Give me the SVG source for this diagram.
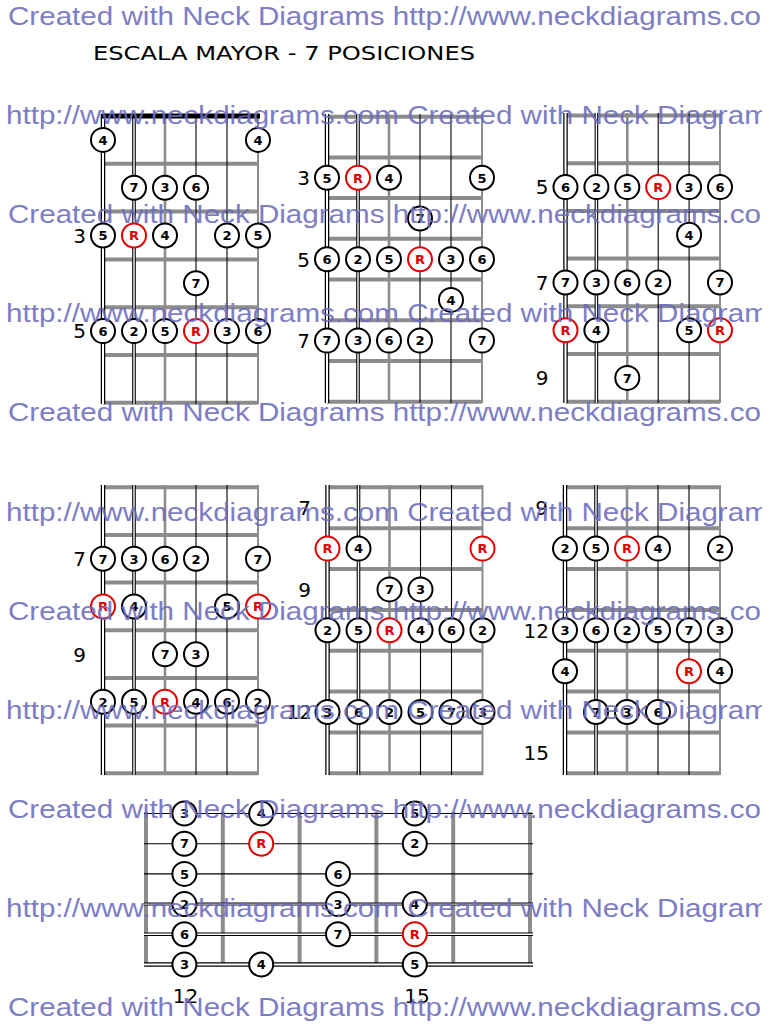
<svg xmlns="http://www.w3.org/2000/svg" width="768" height="1024" viewBox="0 0 768 1024">
<style>
.wm{font-family:"Liberation Sans",Arial,sans-serif;font-size:26px;fill:#6c6cbd;opacity:.88}
.title{font-family:"DejaVu Sans",Verdana,sans-serif;font-size:20px;fill:#000}
.fret{stroke:#8c8c8c;stroke-width:4}
.nut{stroke:#000;stroke-width:5}
.so{stroke:#000;stroke-width:4.5}
.si{stroke:#fff;stroke-width:2}
.ao{stroke:#000;stroke-width:3.6}
.ai{stroke:#fff;stroke-width:1.4}
.bo{stroke:#000;stroke-width:3}
.bi{stroke:#fff;stroke-width:1}
.sd{stroke:#8c8c8c;stroke-width:2.6}
.st{stroke:#000;stroke-width:1.1}
.se{stroke:#8c8c8c;stroke-width:2}
.n circle{fill:#fff;stroke:#000;stroke-width:2}
.n text{font-family:"DejaVu Sans",Verdana,sans-serif;font-weight:bold;font-size:13px;text-anchor:middle;fill:#000}
.n.r circle{stroke:#e00000}
.n.r text{fill:#e00000}
.lbl{font-family:"DejaVu Sans",Verdana,sans-serif;font-size:20px;fill:#000;text-anchor:end}
.lbl.c{text-anchor:middle}
</style>
<defs>
<clipPath id="wmclip"><rect x="0" y="0" width="762" height="1024"/></clipPath>
</defs>
<rect width="768" height="1024" fill="#fff"/>

<text id="title" class="title" x="93" y="60" textLength="382" lengthAdjust="spacingAndGlyphs">ESCALA MAYOR - 7 POSICIONES</text>

<g id="connectors"></g>

<!-- Diagram A: top-left -->
<g id="diagA">
<g id="diagA-grid">
<line class="fret" x1="103" y1="163.8" x2="258" y2="163.8"/>
<line class="fret" x1="103" y1="211.6" x2="258" y2="211.6"/>
<line class="fret" x1="103" y1="259.4" x2="258" y2="259.4"/>
<line class="fret" x1="103" y1="307.2" x2="258" y2="307.2"/>
<line class="fret" x1="103" y1="355" x2="258" y2="355"/>
<line class="fret" x1="103" y1="402.8" x2="258" y2="402.8"/>
<line class="so" x1="103" y1="114" x2="103" y2="404"/><line class="si" x1="103" y1="114" x2="103" y2="404"/>
<line class="ao" x1="134" y1="114" x2="134" y2="404"/><line class="ai" x1="134" y1="114" x2="134" y2="404"/>
<line class="sd" x1="165" y1="114" x2="165" y2="404"/>
<line class="st" x1="196" y1="114" x2="196" y2="404"/>
<line class="st" x1="227" y1="114" x2="227" y2="404"/>
<line class="se" x1="258" y1="114" x2="258" y2="404"/>
<line class="nut" x1="102" y1="116" x2="260" y2="116"/>
</g>
<text class="lbl" x="86" y="242.8">3</text>
<text class="lbl" x="86" y="338.4">5</text>
<g id="a1" class="n"><circle cx="103" cy="139.9" r="12"/><text x="103" y="144.6">4</text></g>
<g id="a2" class="n"><circle cx="258" cy="139.9" r="12"/><text x="258" y="144.6">4</text></g>
<g id="a3" class="n"><circle cx="134" cy="187.7" r="12"/><text x="134" y="192.4">7</text></g>
<g id="a4" class="n"><circle cx="165" cy="187.7" r="12"/><text x="165" y="192.4">3</text></g>
<g id="a5" class="n"><circle cx="196" cy="187.7" r="12"/><text x="196" y="192.4">6</text></g>
<g id="a6" class="n"><circle cx="103" cy="235.5" r="12"/><text x="103" y="240.2">5</text></g>
<g id="a7" class="n r"><circle cx="134" cy="235.5" r="12"/><text x="134" y="240.2">R</text></g>
<g id="a8" class="n"><circle cx="165" cy="235.5" r="12"/><text x="165" y="240.2">4</text></g>
<g id="a9" class="n"><circle cx="227" cy="235.5" r="12"/><text x="227" y="240.2">2</text></g>
<g id="a10" class="n"><circle cx="258" cy="235.5" r="12"/><text x="258" y="240.2">5</text></g>
<g id="a11" class="n"><circle cx="196" cy="283.3" r="12"/><text x="196" y="288">7</text></g>
<g id="a12" class="n"><circle cx="103" cy="331.1" r="12"/><text x="103" y="335.8">6</text></g>
<g id="a13" class="n"><circle cx="134" cy="331.1" r="12"/><text x="134" y="335.8">2</text></g>
<g id="a14" class="n"><circle cx="165" cy="331.1" r="12"/><text x="165" y="335.8">5</text></g>
<g id="a15" class="n r"><circle cx="196" cy="331.1" r="12"/><text x="196" y="335.8">R</text></g>
<g id="a16" class="n"><circle cx="227" cy="331.1" r="12"/><text x="227" y="335.8">3</text></g>
<g id="a17" class="n"><circle cx="258" cy="331.1" r="12"/><text x="258" y="335.8">6</text></g>
</g>

<!-- Diagram B: top-middle -->
<g id="diagB">
<g id="diagB-grid">
<line class="fret" x1="327" y1="116.7" x2="482" y2="116.7"/>
<line class="fret" x1="327" y1="157.4" x2="482" y2="157.4"/>
<line class="fret" x1="327" y1="198.1" x2="482" y2="198.1"/>
<line class="fret" x1="327" y1="238.8" x2="482" y2="238.8"/>
<line class="fret" x1="327" y1="279.5" x2="482" y2="279.5"/>
<line class="fret" x1="327" y1="320.3" x2="482" y2="320.3"/>
<line class="fret" x1="327" y1="361" x2="482" y2="361"/>
<line class="fret" x1="327" y1="401.7" x2="482" y2="401.7"/>
<line class="so" x1="327" y1="114" x2="327" y2="403"/><line class="si" x1="327" y1="114" x2="327" y2="403"/>
<line class="ao" x1="358" y1="114" x2="358" y2="403"/><line class="ai" x1="358" y1="114" x2="358" y2="403"/>
<line class="sd" x1="389" y1="114" x2="389" y2="403"/>
<line class="st" x1="420" y1="114" x2="420" y2="403"/>
<line class="st" x1="451" y1="114" x2="451" y2="403"/>
<line class="se" x1="482" y1="114" x2="482" y2="403"/>
</g>
<text class="lbl" x="310" y="185.1">3</text>
<text class="lbl" x="310" y="266.5">5</text>
<text class="lbl" x="310" y="347.9">7</text>
<g id="b1" class="n"><circle cx="327" cy="177.8" r="12"/><text x="327" y="182.5">5</text></g>
<g id="b2" class="n r"><circle cx="358" cy="177.8" r="12"/><text x="358" y="182.5">R</text></g>
<g id="b3" class="n"><circle cx="389" cy="177.8" r="12"/><text x="389" y="182.5">4</text></g>
<g id="b4" class="n"><circle cx="482" cy="177.8" r="12"/><text x="482" y="182.5">5</text></g>
<g id="b5" class="n"><circle cx="420" cy="218.5" r="12"/><text x="420" y="223.2">7</text></g>
<g id="b6" class="n"><circle cx="327" cy="259.2" r="12"/><text x="327" y="263.9">6</text></g>
<g id="b7" class="n"><circle cx="358" cy="259.2" r="12"/><text x="358" y="263.9">2</text></g>
<g id="b8" class="n"><circle cx="389" cy="259.2" r="12"/><text x="389" y="263.9">5</text></g>
<g id="b9" class="n r"><circle cx="420" cy="259.2" r="12"/><text x="420" y="263.9">R</text></g>
<g id="b10" class="n"><circle cx="451" cy="259.2" r="12"/><text x="451" y="263.9">3</text></g>
<g id="b11" class="n"><circle cx="482" cy="259.2" r="12"/><text x="482" y="263.9">6</text></g>
<g id="b12" class="n"><circle cx="451" cy="299.9" r="12"/><text x="451" y="304.6">4</text></g>
<g id="b13" class="n"><circle cx="327" cy="340.6" r="12"/><text x="327" y="345.3">7</text></g>
<g id="b14" class="n"><circle cx="358" cy="340.6" r="12"/><text x="358" y="345.3">3</text></g>
<g id="b15" class="n"><circle cx="389" cy="340.6" r="12"/><text x="389" y="345.3">6</text></g>
<g id="b16" class="n"><circle cx="420" cy="340.6" r="12"/><text x="420" y="345.3">2</text></g>
<g id="b17" class="n"><circle cx="482" cy="340.6" r="12"/><text x="482" y="345.3">7</text></g>
</g>

<!-- Diagram C: top-right -->
<g id="diagC">
<g id="diagC-grid">
<line class="fret" x1="565.5" y1="115.5" x2="720" y2="115.5"/>
<line class="fret" x1="565.5" y1="163.2" x2="720" y2="163.2"/>
<line class="fret" x1="565.5" y1="210.9" x2="720" y2="210.9"/>
<line class="fret" x1="565.5" y1="258.6" x2="720" y2="258.6"/>
<line class="fret" x1="565.5" y1="306.3" x2="720" y2="306.3"/>
<line class="fret" x1="565.5" y1="354" x2="720" y2="354"/>
<line class="fret" x1="565.5" y1="401.7" x2="720" y2="401.7"/>
<line class="so" x1="565.5" y1="113" x2="565.5" y2="403"/><line class="si" x1="565.5" y1="113" x2="565.5" y2="403"/>
<line class="ao" x1="596.4" y1="113" x2="596.4" y2="403"/><line class="ai" x1="596.4" y1="113" x2="596.4" y2="403"/>
<line class="sd" x1="627.3" y1="113" x2="627.3" y2="403"/>
<line class="st" x1="658.2" y1="113" x2="658.2" y2="403"/>
<line class="st" x1="689.1" y1="113" x2="689.1" y2="403"/>
<line class="se" x1="720" y1="113" x2="720" y2="403"/>
</g>
<text class="lbl" x="548.5" y="194.4">5</text>
<text class="lbl" x="548.5" y="289.8">7</text>
<text class="lbl" x="548.5" y="385.2">9</text>
<g id="c1" class="n"><circle cx="565.5" cy="187.1" r="12"/><text x="565.5" y="191.8">6</text></g>
<g id="c2" class="n"><circle cx="596.4" cy="187.1" r="12"/><text x="596.4" y="191.8">2</text></g>
<g id="c3" class="n"><circle cx="627.3" cy="187.1" r="12"/><text x="627.3" y="191.8">5</text></g>
<g id="c4" class="n r"><circle cx="658.2" cy="187.1" r="12"/><text x="658.2" y="191.8">R</text></g>
<g id="c5" class="n"><circle cx="689.1" cy="187.1" r="12"/><text x="689.1" y="191.8">3</text></g>
<g id="c6" class="n"><circle cx="720" cy="187.1" r="12"/><text x="720" y="191.8">6</text></g>
<g id="c7" class="n"><circle cx="689.1" cy="234.8" r="12"/><text x="689.1" y="239.5">4</text></g>
<g id="c8" class="n"><circle cx="565.5" cy="282.5" r="12"/><text x="565.5" y="287.2">7</text></g>
<g id="c9" class="n"><circle cx="596.4" cy="282.5" r="12"/><text x="596.4" y="287.2">3</text></g>
<g id="c10" class="n"><circle cx="627.3" cy="282.5" r="12"/><text x="627.3" y="287.2">6</text></g>
<g id="c11" class="n"><circle cx="658.2" cy="282.5" r="12"/><text x="658.2" y="287.2">2</text></g>
<g id="c12" class="n"><circle cx="720" cy="282.5" r="12"/><text x="720" y="287.2">7</text></g>
<g id="c13" class="n r"><circle cx="565.5" cy="330.2" r="12"/><text x="565.5" y="334.9">R</text></g>
<g id="c14" class="n"><circle cx="596.4" cy="330.2" r="12"/><text x="596.4" y="334.9">4</text></g>
<g id="c15" class="n"><circle cx="689.1" cy="330.2" r="12"/><text x="689.1" y="334.9">5</text></g>
<g id="c16" class="n r"><circle cx="720" cy="330.2" r="12"/><text x="720" y="334.9">R</text></g>
<g id="c17" class="n"><circle cx="627.3" cy="377.9" r="12"/><text x="627.3" y="382.6">7</text></g>
</g>

<!-- Diagram D: middle-left -->
<g id="diagD">
<g id="diagD-grid">
<line class="fret" x1="103" y1="487.3" x2="258" y2="487.3"/>
<line class="fret" x1="103" y1="535" x2="258" y2="535"/>
<line class="fret" x1="103" y1="582.6" x2="258" y2="582.6"/>
<line class="fret" x1="103" y1="630.3" x2="258" y2="630.3"/>
<line class="fret" x1="103" y1="678" x2="258" y2="678"/>
<line class="fret" x1="103" y1="725.6" x2="258" y2="725.6"/>
<line class="fret" x1="103" y1="773.3" x2="258" y2="773.3"/>
<line class="so" x1="103" y1="485" x2="103" y2="775"/><line class="si" x1="103" y1="485" x2="103" y2="775"/>
<line class="ao" x1="134" y1="485" x2="134" y2="775"/><line class="ai" x1="134" y1="485" x2="134" y2="775"/>
<line class="sd" x1="165" y1="485" x2="165" y2="775"/>
<line class="st" x1="196" y1="485" x2="196" y2="775"/>
<line class="st" x1="227" y1="485" x2="227" y2="775"/>
<line class="se" x1="258" y1="485" x2="258" y2="775"/>
</g>
<text class="lbl" x="86" y="566.1">7</text>
<text class="lbl" x="86" y="661.5">9</text>
<g id="d1" class="n"><circle cx="103" cy="558.8" r="12"/><text x="103" y="563.5">7</text></g>
<g id="d2" class="n"><circle cx="134" cy="558.8" r="12"/><text x="134" y="563.5">3</text></g>
<g id="d3" class="n"><circle cx="165" cy="558.8" r="12"/><text x="165" y="563.5">6</text></g>
<g id="d4" class="n"><circle cx="196" cy="558.8" r="12"/><text x="196" y="563.5">2</text></g>
<g id="d5" class="n"><circle cx="258" cy="558.8" r="12"/><text x="258" y="563.5">7</text></g>
<g id="d6" class="n r"><circle cx="103" cy="606.5" r="12"/><text x="103" y="611.2">R</text></g>
<g id="d7" class="n"><circle cx="134" cy="606.5" r="12"/><text x="134" y="611.2">4</text></g>
<g id="d8" class="n"><circle cx="227" cy="606.5" r="12"/><text x="227" y="611.2">5</text></g>
<g id="d9" class="n r"><circle cx="258" cy="606.5" r="12"/><text x="258" y="611.2">R</text></g>
<g id="d10" class="n"><circle cx="165" cy="654.2" r="12"/><text x="165" y="658.9">7</text></g>
<g id="d11" class="n"><circle cx="196" cy="654.2" r="12"/><text x="196" y="658.9">3</text></g>
<g id="d12" class="n"><circle cx="103" cy="701.8" r="12"/><text x="103" y="706.5">2</text></g>
<g id="d13" class="n"><circle cx="134" cy="701.8" r="12"/><text x="134" y="706.5">5</text></g>
<g id="d14" class="n r"><circle cx="165" cy="701.8" r="12"/><text x="165" y="706.5">R</text></g>
<g id="d15" class="n"><circle cx="196" cy="701.8" r="12"/><text x="196" y="706.5">4</text></g>
<g id="d16" class="n"><circle cx="227" cy="701.8" r="12"/><text x="227" y="706.5">6</text></g>
<g id="d17" class="n"><circle cx="258" cy="701.8" r="12"/><text x="258" y="706.5">2</text></g>
</g>

<!-- Diagram E: middle-middle -->
<g id="diagE">
<g id="diagE-grid">
<line class="fret" x1="327.5" y1="487.3" x2="482.5" y2="487.3"/>
<line class="fret" x1="327.5" y1="528.2" x2="482.5" y2="528.2"/>
<line class="fret" x1="327.5" y1="569" x2="482.5" y2="569"/>
<line class="fret" x1="327.5" y1="609.9" x2="482.5" y2="609.9"/>
<line class="fret" x1="327.5" y1="650.7" x2="482.5" y2="650.7"/>
<line class="fret" x1="327.5" y1="691.6" x2="482.5" y2="691.6"/>
<line class="fret" x1="327.5" y1="732.5" x2="482.5" y2="732.5"/>
<line class="fret" x1="327.5" y1="773.3" x2="482.5" y2="773.3"/>
<line class="so" x1="327.5" y1="485" x2="327.5" y2="775"/><line class="si" x1="327.5" y1="485" x2="327.5" y2="775"/>
<line class="ao" x1="358.5" y1="485" x2="358.5" y2="775"/><line class="ai" x1="358.5" y1="485" x2="358.5" y2="775"/>
<line class="sd" x1="389.5" y1="485" x2="389.5" y2="775"/>
<line class="st" x1="420.5" y1="485" x2="420.5" y2="775"/>
<line class="st" x1="451.5" y1="485" x2="451.5" y2="775"/>
<line class="se" x1="482.5" y1="485" x2="482.5" y2="775"/>
</g>
<text class="lbl" x="311" y="515">7</text>
<text class="lbl" x="311" y="596.7">9</text>
<text class="lbl" x="312" y="719.3">12</text>
<g id="e1" class="n r"><circle cx="327.5" cy="548.6" r="12"/><text x="327.5" y="553.3">R</text></g>
<g id="e2" class="n"><circle cx="358.5" cy="548.6" r="12"/><text x="358.5" y="553.3">4</text></g>
<g id="e3" class="n r"><circle cx="482.5" cy="548.6" r="12"/><text x="482.5" y="553.3">R</text></g>
<g id="e4" class="n"><circle cx="389.5" cy="589.4" r="12"/><text x="389.5" y="594.1">7</text></g>
<g id="e5" class="n"><circle cx="420.5" cy="589.4" r="12"/><text x="420.5" y="594.1">3</text></g>
<g id="e6" class="n"><circle cx="327.5" cy="630.3" r="12"/><text x="327.5" y="635">2</text></g>
<g id="e7" class="n"><circle cx="358.5" cy="630.3" r="12"/><text x="358.5" y="635">5</text></g>
<g id="e8" class="n r"><circle cx="389.5" cy="630.3" r="12"/><text x="389.5" y="635">R</text></g>
<g id="e9" class="n"><circle cx="420.5" cy="630.3" r="12"/><text x="420.5" y="635">4</text></g>
<g id="e10" class="n"><circle cx="451.5" cy="630.3" r="12"/><text x="451.5" y="635">6</text></g>
<g id="e11" class="n"><circle cx="482.5" cy="630.3" r="12"/><text x="482.5" y="635">2</text></g>
<g id="e12" class="n"><circle cx="327.5" cy="712" r="12"/><text x="327.5" y="716.7">3</text></g>
<g id="e13" class="n"><circle cx="358.5" cy="712" r="12"/><text x="358.5" y="716.7">6</text></g>
<g id="e14" class="n"><circle cx="389.5" cy="712" r="12"/><text x="389.5" y="716.7">2</text></g>
<g id="e15" class="n"><circle cx="420.5" cy="712" r="12"/><text x="420.5" y="716.7">5</text></g>
<g id="e16" class="n"><circle cx="451.5" cy="712" r="12"/><text x="451.5" y="716.7">7</text></g>
<g id="e17" class="n"><circle cx="482.5" cy="712" r="12"/><text x="482.5" y="716.7">3</text></g>
</g>

<!-- Diagram F: middle-right -->
<g id="diagF">
<g id="diagF-grid">
<line class="fret" x1="565" y1="487.3" x2="720" y2="487.3"/>
<line class="fret" x1="565" y1="528.2" x2="720" y2="528.2"/>
<line class="fret" x1="565" y1="569" x2="720" y2="569"/>
<line class="fret" x1="565" y1="609.9" x2="720" y2="609.9"/>
<line class="fret" x1="565" y1="650.7" x2="720" y2="650.7"/>
<line class="fret" x1="565" y1="691.6" x2="720" y2="691.6"/>
<line class="fret" x1="565" y1="732.5" x2="720" y2="732.5"/>
<line class="fret" x1="565" y1="773.3" x2="720" y2="773.3"/>
<line class="so" x1="565" y1="485" x2="565" y2="775"/><line class="si" x1="565" y1="485" x2="565" y2="775"/>
<line class="ao" x1="596" y1="485" x2="596" y2="775"/><line class="ai" x1="596" y1="485" x2="596" y2="775"/>
<line class="sd" x1="627" y1="485" x2="627" y2="775"/>
<line class="st" x1="658" y1="485" x2="658" y2="775"/>
<line class="st" x1="689" y1="485" x2="689" y2="775"/>
<line class="se" x1="720" y1="485" x2="720" y2="775"/>
</g>
<text class="lbl" x="548" y="515">9</text>
<text class="lbl" x="549" y="637.6">12</text>
<text class="lbl" x="549" y="760.2">15</text>
<g id="f1" class="n"><circle cx="565" cy="548.6" r="12"/><text x="565" y="553.3">2</text></g>
<g id="f2" class="n"><circle cx="596" cy="548.6" r="12"/><text x="596" y="553.3">5</text></g>
<g id="f3" class="n r"><circle cx="627" cy="548.6" r="12"/><text x="627" y="553.3">R</text></g>
<g id="f4" class="n"><circle cx="658" cy="548.6" r="12"/><text x="658" y="553.3">4</text></g>
<g id="f5" class="n"><circle cx="720" cy="548.6" r="12"/><text x="720" y="553.3">2</text></g>
<g id="f6" class="n"><circle cx="565" cy="630.3" r="12"/><text x="565" y="635">3</text></g>
<g id="f7" class="n"><circle cx="596" cy="630.3" r="12"/><text x="596" y="635">6</text></g>
<g id="f8" class="n"><circle cx="627" cy="630.3" r="12"/><text x="627" y="635">2</text></g>
<g id="f9" class="n"><circle cx="658" cy="630.3" r="12"/><text x="658" y="635">5</text></g>
<g id="f10" class="n"><circle cx="689" cy="630.3" r="12"/><text x="689" y="635">7</text></g>
<g id="f11" class="n"><circle cx="720" cy="630.3" r="12"/><text x="720" y="635">3</text></g>
<g id="f12" class="n"><circle cx="565" cy="671.2" r="12"/><text x="565" y="675.9">4</text></g>
<g id="f13" class="n r"><circle cx="689" cy="671.2" r="12"/><text x="689" y="675.9">R</text></g>
<g id="f14" class="n"><circle cx="720" cy="671.2" r="12"/><text x="720" y="675.9">4</text></g>
<g id="f15" class="n"><circle cx="596" cy="712" r="12"/><text x="596" y="716.7">7</text></g>
<g id="f16" class="n"><circle cx="627" cy="712" r="12"/><text x="627" y="716.7">3</text></g>
<g id="f17" class="n"><circle cx="658" cy="712" r="12"/><text x="658" y="716.7">6</text></g>
</g>

<!-- Diagram G: bottom horizontal -->
<g id="diagG">
<g id="diagG-grid">
<line class="fret" x1="146" y1="812" x2="146" y2="966"/>
<line class="fret" x1="222.8" y1="812" x2="222.8" y2="966"/>
<line class="fret" x1="299.6" y1="812" x2="299.6" y2="966"/>
<line class="fret" x1="376.4" y1="812" x2="376.4" y2="966"/>
<line class="fret" x1="453.2" y1="812" x2="453.2" y2="966"/>
<line class="fret" x1="530" y1="812" x2="530" y2="966"/>
<line class="st" x1="144" y1="813.5" x2="533" y2="813.5"/>
<line class="st" x1="144" y1="843.7" x2="533" y2="843.7"/>
<line class="st" x1="144" y1="873.9" x2="533" y2="873.9"/>
<line class="bo" x1="144" y1="904.1" x2="533" y2="904.1"/><line class="bi" x1="144" y1="904.1" x2="533" y2="904.1"/>
<line class="ao" x1="144" y1="934.3" x2="533" y2="934.3"/><line class="ai" x1="144" y1="934.3" x2="533" y2="934.3"/>
<line class="so" x1="144" y1="964.5" x2="533" y2="964.5"/><line class="si" x1="144" y1="964.5" x2="533" y2="964.5"/>
</g>
<text class="lbl c" x="185.5" y="1003">12</text>
<text class="lbl c" x="417" y="1003">15</text>
<g id="g1" class="n"><circle cx="184.4" cy="813.5" r="12"/><text x="184.4" y="818.2">3</text></g>
<g id="g2" class="n"><circle cx="261.2" cy="813.5" r="12"/><text x="261.2" y="818.2">4</text></g>
<g id="g3" class="n"><circle cx="414.8" cy="813.5" r="12"/><text x="414.8" y="818.2">5</text></g>
<g id="g4" class="n"><circle cx="184.4" cy="843.7" r="12"/><text x="184.4" y="848.4">7</text></g>
<g id="g5" class="n r"><circle cx="261.2" cy="843.7" r="12"/><text x="261.2" y="848.4">R</text></g>
<g id="g6" class="n"><circle cx="414.8" cy="843.7" r="12"/><text x="414.8" y="848.4">2</text></g>
<g id="g7" class="n"><circle cx="184.4" cy="873.9" r="12"/><text x="184.4" y="878.6">5</text></g>
<g id="g8" class="n"><circle cx="338" cy="873.9" r="12"/><text x="338" y="878.6">6</text></g>
<g id="g9" class="n"><circle cx="184.4" cy="904.1" r="12"/><text x="184.4" y="908.8">2</text></g>
<g id="g10" class="n"><circle cx="338" cy="904.1" r="12"/><text x="338" y="908.8">3</text></g>
<g id="g11" class="n"><circle cx="414.8" cy="904.1" r="12"/><text x="414.8" y="908.8">4</text></g>
<g id="g12" class="n"><circle cx="184.4" cy="934.3" r="12"/><text x="184.4" y="939">6</text></g>
<g id="g13" class="n"><circle cx="338" cy="934.3" r="12"/><text x="338" y="939">7</text></g>
<g id="g14" class="n r"><circle cx="414.8" cy="934.3" r="12"/><text x="414.8" y="939">R</text></g>
<g id="g15" class="n"><circle cx="184.4" cy="964.5" r="12"/><text x="184.4" y="969.2">3</text></g>
<g id="g16" class="n"><circle cx="261.2" cy="964.5" r="12"/><text x="261.2" y="969.2">4</text></g>
<g id="g17" class="n"><circle cx="414.8" cy="964.5" r="12"/><text x="414.8" y="969.2">5</text></g>
</g>

<!-- Watermark -->
<g id="watermark" clip-path="url(#wmclip)">
<text class="wm" x="8" y="25" textLength="777.6" lengthAdjust="spacingAndGlyphs">Created with Neck Diagrams http://www.neckdiagrams.com</text>
<text class="wm" x="6" y="124.1" textLength="777.6" lengthAdjust="spacingAndGlyphs">http://www.neckdiagrams.com Created with Neck Diagrams</text>
<text class="wm" x="8" y="223.2" textLength="777.6" lengthAdjust="spacingAndGlyphs">Created with Neck Diagrams http://www.neckdiagrams.com</text>
<text class="wm" x="6" y="322.3" textLength="777.6" lengthAdjust="spacingAndGlyphs">http://www.neckdiagrams.com Created with Neck Diagrams</text>
<text class="wm" x="8" y="421.4" textLength="777.6" lengthAdjust="spacingAndGlyphs">Created with Neck Diagrams http://www.neckdiagrams.com</text>
<text class="wm" x="6" y="520.5" textLength="777.6" lengthAdjust="spacingAndGlyphs">http://www.neckdiagrams.com Created with Neck Diagrams</text>
<text class="wm" x="8" y="619.6" textLength="777.6" lengthAdjust="spacingAndGlyphs">Created with Neck Diagrams http://www.neckdiagrams.com</text>
<text class="wm" x="6" y="718.7" textLength="777.6" lengthAdjust="spacingAndGlyphs">http://www.neckdiagrams.com Created with Neck Diagrams</text>
<text class="wm" x="8" y="817.8" textLength="777.6" lengthAdjust="spacingAndGlyphs">Created with Neck Diagrams http://www.neckdiagrams.com</text>
<text class="wm" x="6" y="916.9" textLength="777.6" lengthAdjust="spacingAndGlyphs">http://www.neckdiagrams.com Created with Neck Diagrams</text>
<text class="wm" x="8" y="1016" textLength="777.6" lengthAdjust="spacingAndGlyphs">Created with Neck Diagrams http://www.neckdiagrams.com</text>
</g>
</svg>
